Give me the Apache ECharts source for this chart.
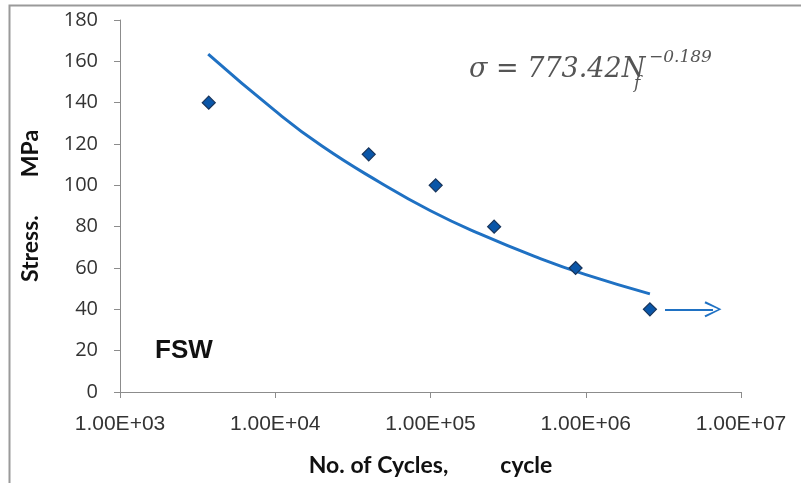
<!DOCTYPE html>
<html>
<head>
<meta charset="utf-8">
<script src="https://cdn.jsdelivr.net/npm/echarts@6/dist/echarts.min.js"></script>
<style>
  html, body { margin: 0; padding: 0; background: #fff; }
  #chart { width: 801px; height: 483px; }
</style>
</head>
<body>
<div id="chart"></div>
<script>
// test data
const cycles = [3730, 40000, 108000, 257000, 860000, 2590000];
const stress = [140, 115, 100, 80, 60, 40];

// power-law trend line
const trendCycles = [3700, 10000, 20000, 47000, 100000, 208000, 500000, 1000000, 2590000];
const trendStress = [163.5, 136, 119, 101.5, 87.7, 76.5, 64.8, 56.8, 47.5];

// run-out arrow at the last point
const arrowCycles = [3240000, 6600000];
const arrowStress = [40, 40];

const xTickLabels = ['1.00E+03', '1.00E+04', '1.00E+05', '1.00E+06', '1.00E+07'];

const blue = '#1f71c3';
const chart = echarts.init(document.getElementById('chart'));

chart.setOption({
  animation: false,
  backgroundColor: '#fff',
  grid: { left: 120, right: 60, top: 20, bottom: 91, containLabel: false, outerBoundsMode: 'none' },
  xAxis: {
    type: 'log',
    logBase: 10,
    min: 1000,
    max: 10000000,
    name: '{a|No. of Cycles,}{s|}{a|cycle}',
    nameLocation: 'middle',
    nameGap: 62,
    nameTextStyle: {
      rich: {
        a: { fontFamily: 'Lato', fontWeight: 'bold', fontSize: 23, color: '#111' },
        s: { width: 52 }
      }
    },
    axisLine: { lineStyle: { color: '#8c8c8c', width: 1 } },
    axisTick: { show: true, length: 6, lineStyle: { color: '#8c8c8c' } },
    minorTick: { show: false },
    splitLine: { show: false },
    axisLabel: {
      margin: 22,
      fontFamily: 'Liberation Sans',
      fontSize: 21,
      color: '#333',
      formatter: v => xTickLabels[Math.round(Math.log10(v)) - 3]
    }
  },
  yAxis: {
    type: 'value',
    min: 0,
    max: 180,
    interval: 20,
    name: '{a|Stress.}{s|}{a|MPa}',
    nameLocation: 'middle',
    nameGap: 78,
    nameTextStyle: {
      rich: {
        a: { fontFamily: 'Lato', fontWeight: 'bold', fontSize: 23, color: '#111' },
        s: { width: 38 }
      }
    },
    axisLine: { show: true, lineStyle: { color: '#8c8c8c', width: 1 } },
    axisTick: { show: true, length: 6, lineStyle: { color: '#8c8c8c' } },
    splitLine: { show: false },
    axisLabel: {
      margin: 22,
      fontFamily: 'Open Sans',
      fontSize: 20,
      color: '#333'
    }
  },
  series: [
    {
      name: 'Trend',
      type: 'line',
      smooth: true,
      showSymbol: false,
      symbol: 'none',
      lineStyle: { color: blue, width: 3 },
      data: trendCycles.map((c, i) => [c, trendStress[i]]),
      z: 2
    },
    {
      name: 'FSW',
      type: 'scatter',
      symbol: 'diamond',
      symbolSize: 13,
      itemStyle: { color: '#0a56a8', borderColor: '#18345a', borderWidth: 1.2, opacity: 1 },
      data: cycles.map((c, i) => [c, stress[i]]),
      z: 3
    },
    {
      name: 'Run-out',
      type: 'line',
      symbol: 'none',
      lineStyle: { color: blue, width: 2 },
      data: [],
      markLine: {
        silent: true,
        symbol: ['none', 'path://M8,0 L16,15.5 L14.2,16.5 L8,3.2 L1.8,16.5 L0,15.5 Z'],
        symbolSize: [16, 17],
        label: { show: false },
        lineStyle: { color: blue, width: 2, type: 'solid' },
        data: [[
          { coord: [arrowCycles[0], arrowStress[0]] },
          { coord: [arrowCycles[1], arrowStress[1]] }
        ]]
      }
    }
  ],
  graphic: [
    {
      type: 'rect',
      shape: { x: 9.5, y: 5.5, width: 820, height: 500 },
      style: { fill: 'none', stroke: '#9a9a9a', lineWidth: 2 },
      silent: true
    },
    {
      type: 'text',
      style: {
        x: 155, y: 351, text: 'FSW',
        font: 'bold 26px "Liberation Sans"',
        fill: '#111', verticalAlign: 'middle'
      }
    },
    {
      type: 'text',
      style: {
        x: 469, y: 70, text: 'σ = 773.42N',
        font: 'italic 27px "DejaVu Serif"',
        fill: '#555', verticalAlign: 'middle'
      }
    },
    {
      type: 'text',
      style: {
        x: 634, y: 84, text: 'f',
        font: 'italic 17px "DejaVu Serif"',
        fill: '#555', verticalAlign: 'middle'
      }
    },
    {
      type: 'text',
      style: {
        x: 649, y: 58, text: '−0.189',
        font: 'italic 17px "DejaVu Serif"',
        fill: '#555', verticalAlign: 'middle'
      }
    }
  ]
});
</script>
</body>
</html>
